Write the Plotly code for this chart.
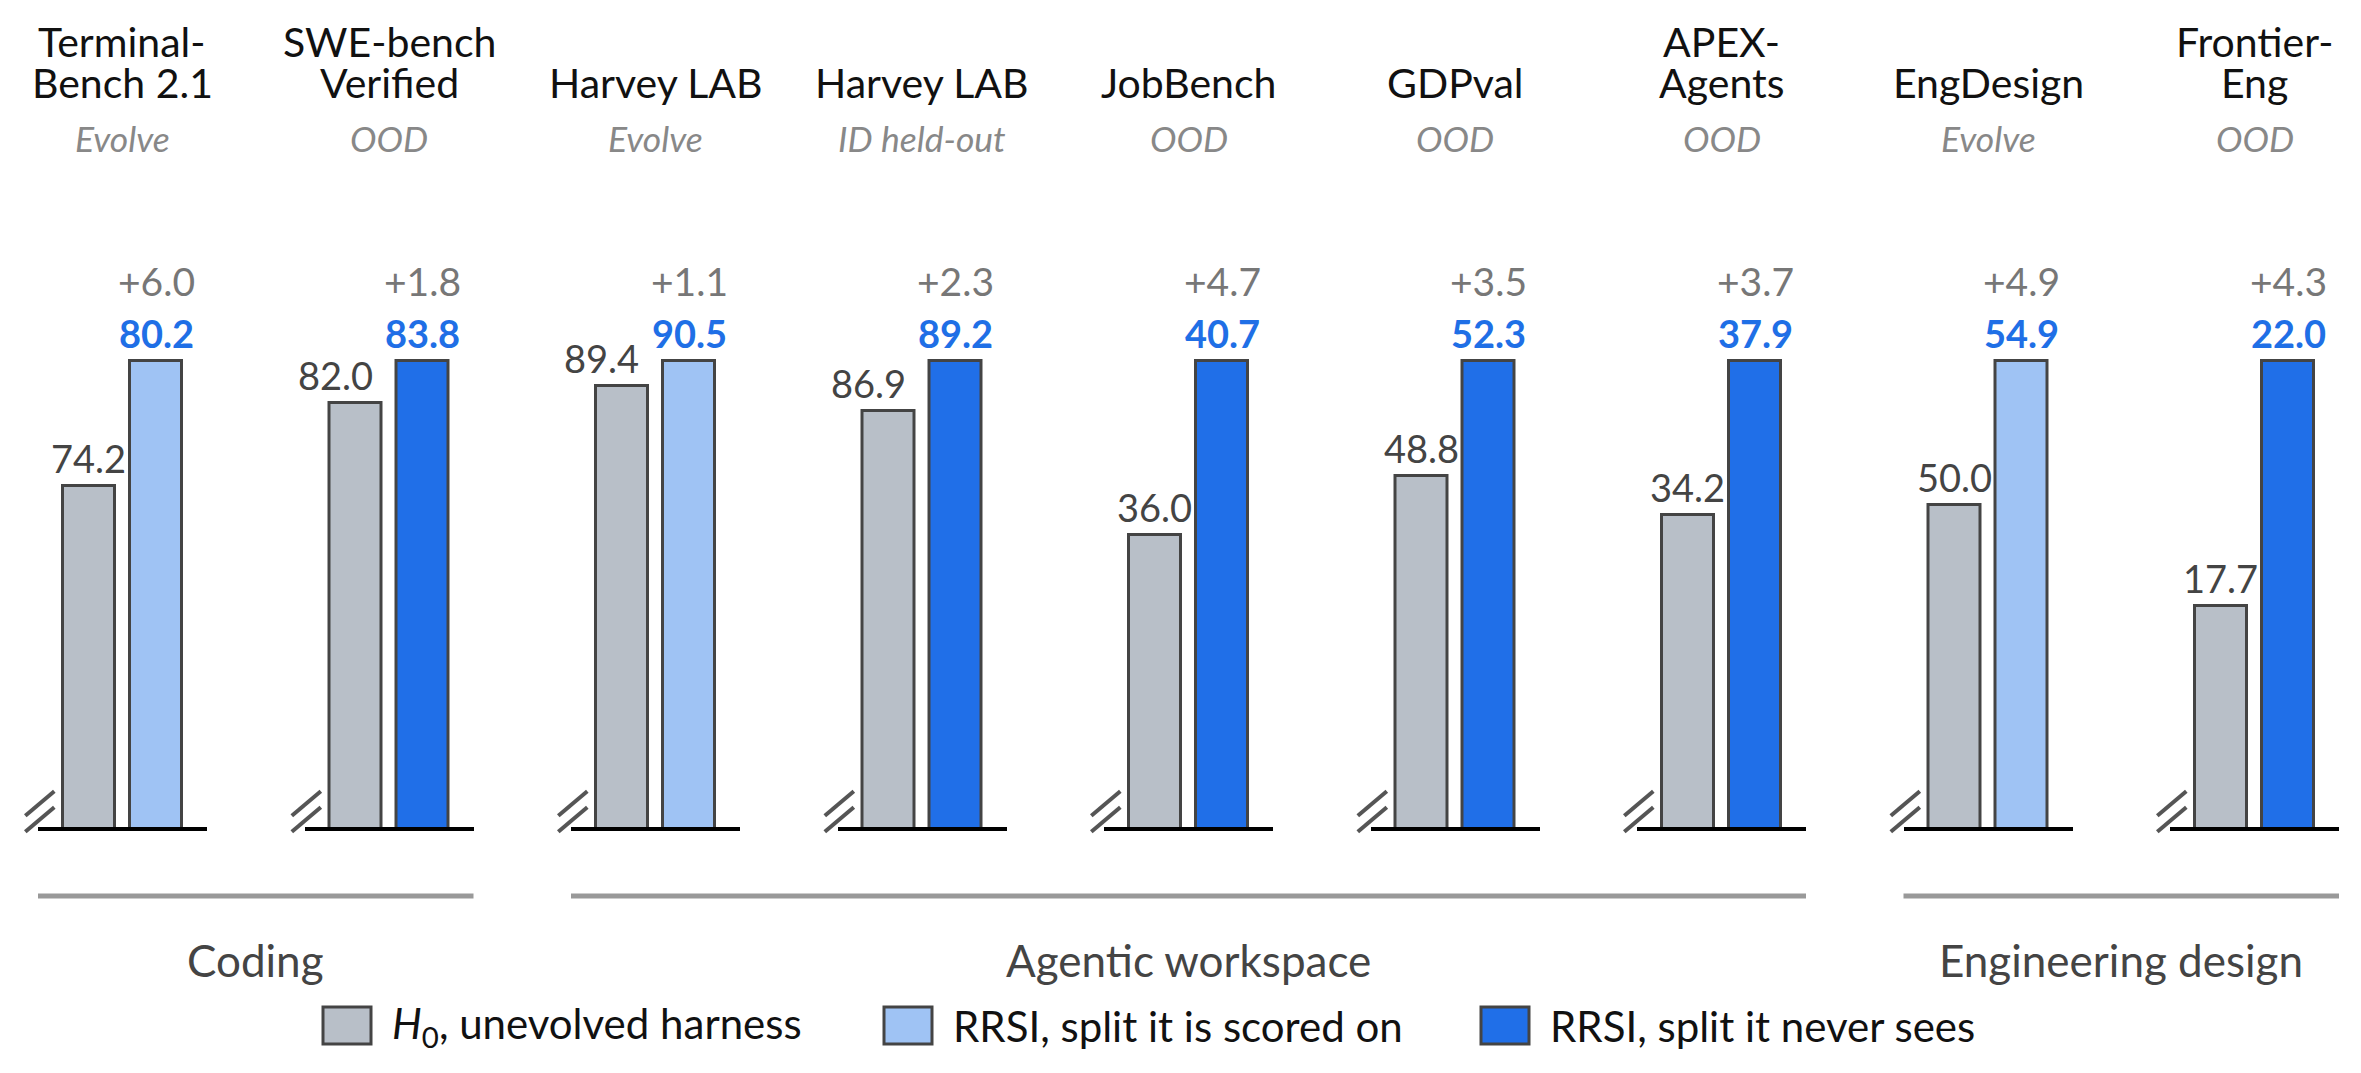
import plotly.graph_objects as go

# benchmark names (two lines each) and which split they are
name_top = ["Terminal-", "SWE-bench", "", "", "", "", "APEX-", "", "Frontier-"]
name_bottom = ["Bench 2.1", "Verified", "Harvey LAB", "Harvey LAB", "JobBench",
               "GDPval", "Agents", "EngDesign", "Eng"]
splits = ["Evolve", "OOD", "Evolve", "ID held-out", "OOD", "OOD", "OOD", "Evolve", "OOD"]

# scores
h0_scores = [74.2, 82.0, 89.4, 86.9, 36.0, 48.8, 34.2, 50.0, 17.7]
rrsi_scores = [80.2, 83.8, 90.5, 89.2, 40.7, 52.3, 37.9, 54.9, 22.0]

# groups drawn under the panels (first panel, last panel, label)
group_names = ["Coding", "Agentic workspace", "Engineering design"]
group_first = [0, 2, 7]
group_last = [1, 6, 8]

legend_labels = ["<i>H</i><sub>0</sub>, unevolved harness",
                 "RRSI, split it is scored on",
                 "RRSI, split it never sees"]

GRAY = "#b8bfc8"
LIGHT_BLUE = "#9fc3f4"
BLUE = "#206fe8"
EDGE = "#444444"
FONT = "Lato"

# the page body has an 8px margin, so the figure is a bit smaller than the window
PAGE_M = 8
W, H = 2361 - 2 * PAGE_M, 1073 - 2 * PAGE_M


def px_x(p):
    return (p - PAGE_M) / W


def px_y(p):
    return 1 - (p - PAGE_M) / H


def text_at(x, y, text, size, color, xref="paper", yref="paper", xanchor="center", **kw):
    fig.add_annotation(x=x, y=y, xref=xref, yref=yref, text=text, showarrow=False,
                       xanchor=xanchor, yanchor="middle",
                       font=dict(family=FONT, size=size, color=color), **kw)


fig = go.Figure()

panel_w = 169
panel_step = 266.5
base_px = 827      # baseline of every panel
top_px = 361       # where the RRSI bar ends
pad_px = 10

for i in range(len(h0_scores)):
    h0 = h0_scores[i]
    rr = rrsi_scores[i]
    # broken axis: each panel starts at 78% of the H0 score
    lo = 0.78 * h0
    hi = rr + (rr - lo) * pad_px / (base_px - top_px)
    n = i + 1
    ax = "" if n == 1 else str(n)
    rr_color = LIGHT_BLUE if splits[i] == "Evolve" else BLUE

    fig.add_trace(go.Bar(
        x=[0, 1], y=[h0, rr], width=0.77,
        marker=dict(color=[GRAY, rr_color], line=dict(color=EDGE, width=3)),
        xaxis="x" + ax, yaxis="y" + ax, showlegend=False, hoverinfo="y",
    ))

    left = 38 + panel_step * i
    fig.layout["xaxis" + ax] = dict(
        domain=[px_x(left), px_x(left + panel_w)], range=[-0.75, 1.75],
        showline=True, linecolor="black", linewidth=4, showticklabels=False,
        ticks="", showgrid=False, zeroline=False, anchor="y" + ax, fixedrange=True,
    )
    fig.layout["yaxis" + ax] = dict(
        domain=[px_y(base_px), px_y(top_px - pad_px)], range=[lo, hi],
        visible=False, anchor="x" + ax, fixedrange=True,
    )

    xd = "x" + ax + " domain"
    # titles
    if name_top[i]:
        text_at(0.5, px_y(41), name_top[i], 41, "#111111", xref=xd)
    text_at(0.5, px_y(83), name_bottom[i], 41, "#111111", xref=xd)
    text_at(0.5, px_y(138), "<i>" + splits[i] + "</i>", 35.5, "#888888", xref=xd)

    # value labels; move the H0 label left when it would hit the RRSI label
    frac = (h0 - lo) / (rr - lo)
    shift = -20 if frac > 0.8 else 0
    text_at(0, h0, f"{h0:.1f}", 38, "#444444", xref="x" + ax, yref="y" + ax,
            yshift=28, xshift=shift)
    text_at(1, rr, f"<b>{rr:.1f}</b>", 38, "#1f6fe6", xref="x" + ax, yref="y" + ax,
            yshift=28)
    text_at(1, rr, f"+{rr - h0:.1f}", 39, "#777777", xref="x" + ax, yref="y" + ax,
            yshift=80)

    # the // break marks at the foot of the axis
    yd = "y" + ax + " domain"
    for off in [0, 16]:
        fig.add_shape(type="line", xref=xd, yref=yd, xsizemode="pixel", ysizemode="pixel",
                      xanchor=0, yanchor=0, x0=-12.7, x1=16.3, y0=-4.7 + off, y1=19.7 + off,
                      line=dict(color="#555555", width=4))

# group lines and labels
for g in range(len(group_names)):
    x0 = 38 + panel_step * group_first[g]
    x1 = 38 + panel_step * group_last[g] + panel_w
    fig.add_shape(type="line", xref="paper", yref="paper", x0=px_x(x0), x1=px_x(x1),
                  y0=px_y(896), y1=px_y(896), line=dict(color="#999999", width=5))
    text_at(px_x((x0 + x1) / 2), px_y(960), group_names[g], 44, "#444444")

# legend drawn by hand so the swatches can be large
legend_colors = [GRAY, LIGHT_BLUE, BLUE]
swatch_left = [323, 884, 1481]
for k in range(3):
    s = swatch_left[k]
    fig.add_shape(type="rect", xref="paper", yref="paper", x0=px_x(s), x1=px_x(s + 48),
                  y0=px_y(1044), y1=px_y(1007), fillcolor=legend_colors[k],
                  line=dict(color=EDGE, width=3))
    text_at(px_x(s + 67), px_y(1026), legend_labels[k], 42, "#111111", xanchor="left")

fig.update_layout(
    width=W, height=H, margin=dict(l=0, r=0, t=0, b=0),
    plot_bgcolor="white", paper_bgcolor="white", bargap=0,
)

fig.write_html("out.html")
